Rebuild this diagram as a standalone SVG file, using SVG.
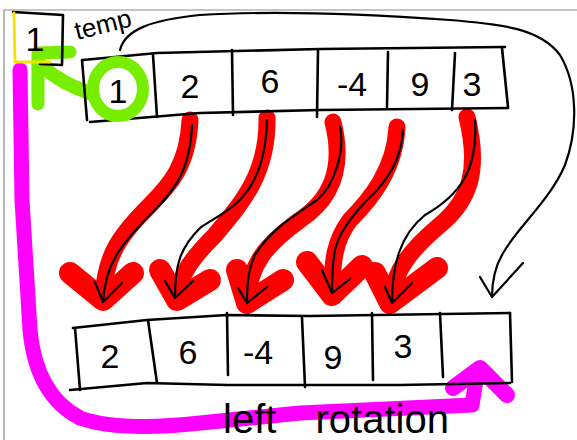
<svg xmlns="http://www.w3.org/2000/svg" width="577" height="440" viewBox="0 0 577 440">
<style>
.ink{fill:none;stroke:#000;stroke-width:2.6;stroke-linecap:round;stroke-linejoin:round}
.thin{fill:none;stroke:#000;stroke-width:2.2;stroke-linecap:round;stroke-linejoin:round}
.red{fill:none;stroke:#ff0000;stroke-width:17;stroke-linecap:round;stroke-linejoin:round}
.redh{fill:none;stroke:#ff0000;stroke-width:22;stroke-linecap:round;stroke-linejoin:round}
.num{font-family:"Liberation Sans",Arial,sans-serif;font-size:34px;fill:#000;text-anchor:middle}
.lbl{font-family:"Liberation Sans",Arial,sans-serif;fill:#000}
</style>
<rect width="577" height="440" fill="#fff"/>
<path d="M4 440 L4 10 L577 10" fill="none" stroke="#8a8a8a" stroke-width="1.2"/>

<g id="connectors">
  <path d="M20 70 L22 200 L30 330 Q36 395 80 418 Q120 432 200 423 L300 413 L472 405 L476 380" fill="none" stroke="#ff00ff" stroke-width="15" stroke-linecap="round" stroke-linejoin="round"/>
  <path d="M453 388 L480 368 L507 395" fill="none" stroke="#ff00ff" stroke-width="16" stroke-linecap="round" stroke-linejoin="round"/>
  <path d="M90 93 Q62 84 42 66" fill="none" stroke="#77ee00" stroke-width="14" stroke-linecap="round" stroke-linejoin="round"/>
  <path d="M38 104 L38 53 L70 52" fill="none" stroke="#77ee00" stroke-width="13" stroke-linecap="round" stroke-linejoin="round"/>
  <path class="red" d="M190 120 C188 165 170 185 150 205 C120 235 105 255 103 298"/>
  <path class="redh" d="M70 273 L103 300 L133 273"/>
  <path class="red" d="M267 118 C268 175 240 205 215 235 C190 260 180 275 177 298"/>
  <path class="redh" d="M160 270 L177 300 L210 280"/>
  <path class="red" d="M333 122 C345 170 330 200 300 220 C265 245 250 265 247 300"/>
  <path class="redh" d="M237 270 L247 303 L283 280"/>
  <path class="red" d="M397 127 C395 170 370 200 350 220 C335 240 332 260 332 293"/>
  <path class="redh" d="M307 262 L332 295 L362 266"/>
  <path class="red" d="M467 117 C480 170 470 200 440 225 C410 250 395 270 390 300"/>
  <path class="redh" d="M375 273 L390 303 L437 268"/>
  <path class="thin" d="M192 125 C190 175 170 195 150 215 C120 245 105 265 103 302"/>
  <path class="thin" d="M95 282 L103 302 L122 283"/>
  <path class="thin" d="M267 120 C265 200 225 210 200 228 C180 248 175 265 175 297"/>
  <path class="thin" d="M165 281 L175 298 L193 281"/>
  <path class="thin" d="M340 127 C345 150 335 185 317 200 C295 215 270 230 255 255 C248 270 247 285 247 303"/>
  <path class="thin" d="M238 288 L247 303 L267 287"/>
  <path class="thin" d="M403 130 C402 150 395 175 367 200 C350 218 338 235 335 250 C332 265 332 280 332 293"/>
  <path class="thin" d="M322 270 L332 293 L350 279"/>
  <path class="thin" d="M475 120 C478 170 460 195 425 215 C400 235 392 265 392 303"/>
  <path class="thin" d="M385 287 L392 303 L412 283"/>
  <path class="thin" d="M120 50 C125 30 150 20 200 15 C280 10 380 15 450 20 C500 24 540 28 560 55 C578 85 578 130 565 165 C550 200 520 225 505 250 C495 265 492 280 492 297"/>
  <path class="thin" d="M480 277 L492 297 L523 263"/>
</g>

<g id="temp">
  <path class="ink" d="M13 12 L63 15 L62 65 L40 64"/>
  <path d="M14 13 L15 62 L50 62" fill="none" stroke="#f2e400" stroke-width="2.8" stroke-linecap="round" stroke-linejoin="round"/>
  <text class="num" x="35" y="51">1</text>
  <text class="lbl" x="77" y="40" font-size="26" transform="rotate(-14 77 40)">temp</text>
</g>

<g id="top-array">
  <path class="ink" d="M83 60 L157 53 L320 49 L505 47"/>
  <path class="ink" d="M90 122 L200 113 L320 110 L508 108"/>
  <path class="ink" d="M82 60 L87 120"/>
  <path class="ink" d="M153 55 L157 117"/>
  <path class="ink" d="M232 50 L233 115"/>
  <path class="ink" d="M318 50 L317 117"/>
  <path class="ink" d="M388 52 L387 107"/>
  <path class="ink" d="M455 53 L452 110"/>
  <path class="ink" d="M502 48 L508 107"/>
  <ellipse cx="118" cy="89" rx="25" ry="27" fill="none" stroke="#77ee00" stroke-width="12"/>
  <text class="num" x="118" y="103">1</text>
  <text class="num" x="190" y="98">2</text>
  <text class="num" x="270" y="93">6</text>
  <text class="num" x="352" y="96">-4</text>
  <text class="num" x="420" y="96">9</text>
  <text class="num" x="472" y="96">3</text>
</g>

<g id="bottom-array">
  <path class="ink" d="M73 328 L147 320 L227 315 L310 316 L510 313"/>
  <path class="ink" d="M70 390 L147 383 L227 385 L400 385 L510 383"/>
  <path class="ink" d="M75 328 L80 390"/>
  <path class="ink" d="M148 320 L157 383"/>
  <path class="ink" d="M227 313 L228 375"/>
  <path class="ink" d="M302 318 L305 387"/>
  <path class="ink" d="M372 313 L373 380"/>
  <path class="ink" d="M440 313 L443 377"/>
  <path class="ink" d="M510 313 L512 382"/>
  <text class="num" x="110" y="368">2</text>
  <text class="num" x="188" y="364">6</text>
  <text class="num" x="258" y="364">-4</text>
  <text class="num" x="333" y="369">9</text>
  <text class="num" x="403" y="358">3</text>
</g>

<text class="lbl" x="223" y="433" font-size="40" word-spacing="28">left rotation</text>
</svg>
